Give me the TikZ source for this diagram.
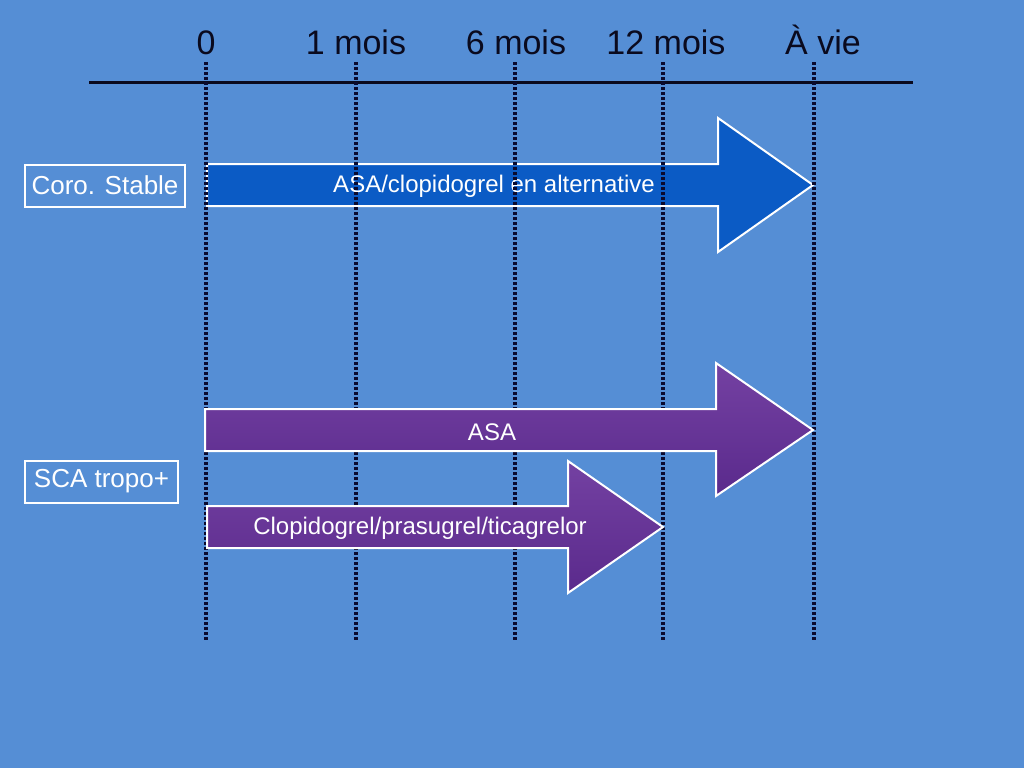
\documentclass[tikz,border=0pt]{standalone}
\usepackage{fontspec}
\setmainfont{Liberation Sans}
\definecolor{bg}{HTML}{558ED5}
\definecolor{dots}{HTML}{0A0A2E}
\definecolor{axis}{HTML}{0A0A1E}
\definecolor{bluearrow}{HTML}{0B5BC5}
\definecolor{ptop}{HTML}{7441A2}
\definecolor{pbot}{HTML}{5A2A8C}
\begin{document}
\begin{tikzpicture}[x=1pt,y=-1pt,
  timelbl/.style={font=\fontsize{34}{40}\selectfont, text=axis, anchor=base, inner sep=0pt},
  rowlbl/.style={draw=white, line width=2pt, text=white, font=\fontsize{26}{30}\selectfont, minimum height=42pt, inner sep=0pt, anchor=west},
  vline/.style={draw=dots, line width=3.5pt, dash pattern=on 3pt off 2pt},
  hline/.style={draw=axis, line width=3pt},
  arrowbody/.style={draw=white, line width=2pt, line join=miter},
  bluefill/.style={fill=bluearrow},
  purplefill/.style={top color=ptop, bottom color=pbot},
  arrowtxt/.style={text=white, font=\fontsize{24}{28}\selectfont, inner sep=0pt}
]
\useasboundingbox (0,0) rectangle (1024,768);
\fill[bg] (0,0) rectangle (1024,768);

% time labels
\node[timelbl] (t0)  at (206,55) {0};
\node[timelbl] (t1)  at (356,55) {1 mois};
\node[timelbl] (t6)  at (516,55) {6 mois};
\node[timelbl] (t12) at (666,55) {12 mois};
\node[timelbl] (tv)  at (823,55) {À vie};

% axis
\coordinate (axL) at (89,82);
\coordinate (axR) at (913,82);
\draw[hline] (axL) -- (axR);

% blue arrow (behind the dotted lines)
\draw[arrowbody, bluefill] (207,164) -- (718,164) -- (718,118) -- (813,185) -- (718,252) -- (718,206) -- (207,206) -- cycle;
\node[arrowtxt] (a1) at (494,186) {ASA/clopidogrel en alternative};

% dotted lines
\foreach \x/\n in {206/d0, 356/d1, 515/d6, 663/d12, 814/dv}{
  \coordinate (\n top) at (\x,62);
  \coordinate (\n bot) at (\x,640);
  \draw[vline] (\n top) -- (\n bot);
}

% purple arrows
\draw[arrowbody, purplefill] (205,409) -- (716,409) -- (716,363) -- (813,430) -- (716,496) -- (716,451) -- (205,451) -- cycle;
\node[arrowtxt] (a2) at (492,432) {ASA};
\draw[arrowbody, purplefill] (207,506) -- (568,506) -- (568,461) -- (663,527) -- (568,593) -- (568,548) -- (207,548) -- cycle;
\node[arrowtxt] (a3) at (420,528) {Clopidogrel/prasugrel/ticagrelor};

% row labels
\node[rowlbl, minimum width=160pt] (coro) at (24,185.5) {Coro. Stable};
\node[rowlbl, minimum width=153pt] (sca) at (24,481.5) {SCA tropo+};
\end{tikzpicture}
\end{document}
